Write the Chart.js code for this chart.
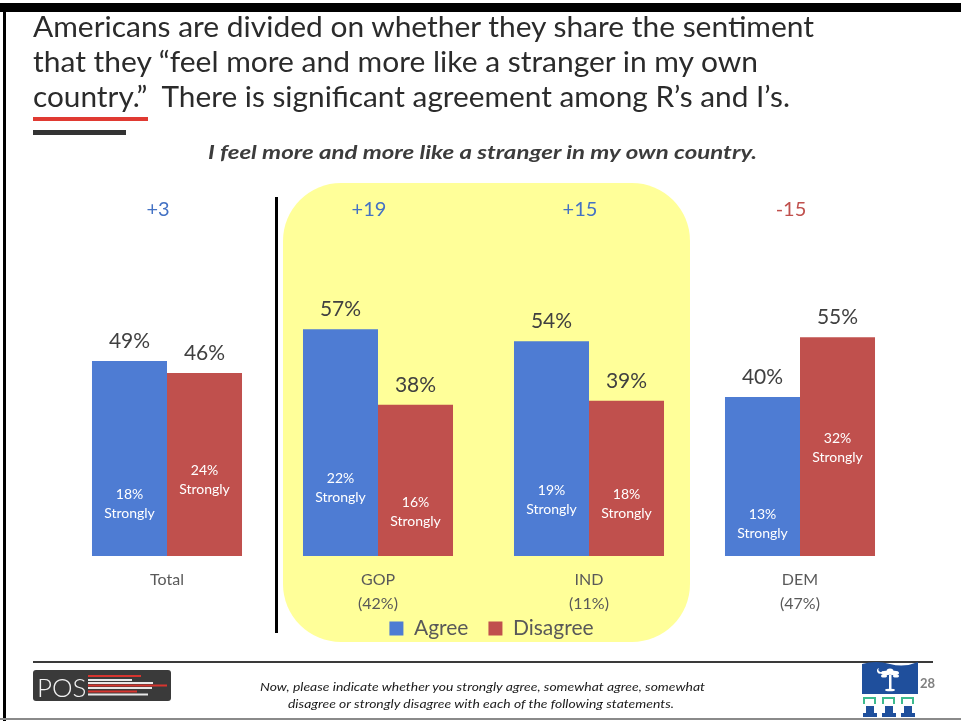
<!DOCTYPE html>
<html><head><meta charset="utf-8">
<script src="https://cdn.jsdelivr.net/npm/chart.js@4.4.1/dist/chart.umd.min.js"></script>
<style>
html,body{margin:0;padding:0;background:#fff;}
body{width:961px;height:721px;position:relative;overflow:hidden;font-family:Lato,"Open Sans",sans-serif;}
#c{position:absolute;left:0;top:0;}
.abs{position:absolute;white-space:pre;transform-origin:0 0;}
.title{font-size:29px;line-height:35px;color:#2b2b2b;font-weight:400;}
.sub{font-size:19px;line-height:19px;color:#3c3c3c;font-weight:700;font-style:italic;}
.foot{font-size:12px;line-height:14px;color:#1a1a1a;font-style:italic;}
.bar{position:absolute;}
</style></head>
<body>
<canvas id="c" width="961" height="721"></canvas>

<div class="bar" style="left:0;top:3px;width:961px;height:9px;background:#000"></div>
<div class="bar" style="left:3px;top:12px;width:3px;height:709px;background:#000"></div>
<div class="bar" style="left:33px;top:117px;width:115px;height:4px;background:#e03a32"></div>
<div class="bar" style="left:33px;top:130px;width:93px;height:5px;background:#333"></div>

<div class="abs title" data-w="781" style="left:33px;top:8px">Americans are divided on whether they share the sentiment</div>
<div class="abs title" data-w="725" style="left:33px;top:43px">that they “feel more and more like a stranger in my own</div>
<div class="abs title" data-w="757" style="left:33px;top:78px">country.”  There is significant agreement among R’s and I’s.</div>
<div class="abs sub" data-w="549" style="left:208px;top:142px">I feel more and more like a stranger in my own country.</div>

<div class="bar" style="left:33px;top:661px;width:900px;height:2px;background:#3a3a3a"></div>
<div class="bar" style="left:0;top:718px;width:961px;height:2px;background:#8a8a8a"></div>

<div class="abs foot" data-w="445" style="left:260px;top:680px">Now, please indicate whether you strongly agree, somewhat agree, somewhat</div>
<div class="abs foot" data-w="386" style="left:288px;top:697px">disagree or strongly disagree with each of the following statements.</div>

<svg style="position:absolute;left:0;top:0" width="961" height="721">
  <rect x="33" y="670" width="138" height="31" rx="3" fill="#3a3a3a"/>
  <text x="37" y="697" font-family="Lato" font-weight="300" font-size="26" fill="#f2f2f2">POS</text>
  <rect x="88" y="675" width="53" height="2" fill="#d7352f"/>
  <rect x="88" y="679" width="44" height="2" fill="#e8e8e8"/>
  <rect x="88" y="682" width="65" height="2" fill="#e8e8e8"/>
  <rect x="88" y="684.5" width="79" height="2" fill="#d7352f"/>
  <rect x="88" y="687" width="64" height="2" fill="#e8e8e8"/>
  <rect x="88" y="690.5" width="49" height="2" fill="#d7352f"/>
  <rect x="88" y="693.5" width="60" height="2" fill="#e8e8e8"/>

  <path d="M862,664 Q876,660 890,664 T918,662 L918,694 L862,694 Z" fill="#1f4f9c"/>
  <rect x="889" y="675" width="2.5" height="15" fill="#fff"/>
  <ellipse cx="886" cy="673" rx="5" ry="2.2" fill="#fff"/>
  <ellipse cx="894" cy="673" rx="5" ry="2.2" fill="#fff"/>
  <ellipse cx="890" cy="671" rx="3.5" ry="2.5" fill="#fff"/>
  <ellipse cx="884" cy="676" rx="3" ry="1.5" fill="#fff"/>
  <ellipse cx="896" cy="676" rx="3" ry="1.5" fill="#fff"/>
  <ellipse cx="890" cy="690" rx="5" ry="1.3" fill="#fff"/>
  <path d="M879,668 a3,3 0 1,0 4,3 a2.3,2.3 0 1,1 -4,-3z" fill="#fff"/>
  <g fill="none" stroke="#3dbb8e" stroke-width="2">
    <path d="M864,704 L864,698 L875,698 L875,704"/>
    <path d="M883,704 L883,698 L894,698 L894,704"/>
    <path d="M902,704 L902,698 L913,698 L913,704"/>
  </g>
  <g fill="#1f4f9c">
    <rect x="866" y="706" width="8" height="7"/><rect x="863" y="713" width="14" height="4"/>
    <rect x="885" y="706" width="8" height="7"/><rect x="882" y="713" width="14" height="4"/>
    <rect x="904" y="706" width="8" height="7"/><rect x="901" y="713" width="14" height="4"/>
  </g>
  <text x="920" y="688" font-family="Lato" font-weight="700" font-size="13" fill="#808080">28</text>
</svg>

<script>
const categories = [["Total"], ["GOP", "(42%)"], ["IND", "(11%)"], ["DEM", "(47%)"]];
const agree = [49, 57, 54, 40];
const disagree = [46, 38, 39, 55];
const agreeStrongly = [18, 22, 19, 13];
const disagreeStrongly = [24, 16, 18, 32];
const netLabels = ["+3", "+19", "+15", "-15"];
const seriesNames = ["Agree", "Disagree"];

document.querySelectorAll('[data-w]').forEach(el => {
  const w = el.getBoundingClientRect().width;
  const t = parseFloat(el.dataset.w);
  if (w > 0) el.style.transform = 'scaleX(' + (t / w) + ')';
});

const BLUE = '#4e7cd3', RED = '#c0504d';

const deco = {
  id: 'deco',
  afterLayout(chart) {
    const l = chart.legend;
    if (l) { l.top -= 20; l.bottom -= 20; l.left += 8; l.right += 8; }
  },
  beforeDraw(chart) {
    const ctx = chart.ctx;
    ctx.save();
    const x0 = 283, y0 = 183, x1 = 690, y1 = 642, r = 58;
    ctx.fillStyle = '#ffff99';
    ctx.beginPath();
    ctx.moveTo(x0 + r, y0);
    ctx.lineTo(x1 - r, y0); ctx.arcTo(x1, y0, x1, y0 + r, r);
    ctx.lineTo(x1, y1 - r); ctx.arcTo(x1, y1, x1 - r, y1, r);
    ctx.lineTo(x0 + r, y1); ctx.arcTo(x0, y1, x0, y1 - r, r);
    ctx.lineTo(x0, y0 + r); ctx.arcTo(x0, y0, x0 + r, y0, r);
    ctx.closePath(); ctx.fill();
    ctx.fillStyle = '#000';
    ctx.fillRect(275, 197, 3, 436);
    ctx.restore();
  },
  afterDatasetsDraw(chart) {
    const ctx = chart.ctx, ys = chart.scales.y, xs = chart.scales.x;
    const strong = [agreeStrongly, disagreeStrongly];
    ctx.save();
    ctx.textAlign = 'center';
    ctx.textBaseline = 'middle';
    chart.data.datasets.forEach((ds, di) => {
      chart.getDatasetMeta(di).data.forEach((bar, i) => {
        ctx.font = '21px Lato';
        ctx.fillStyle = '#404040';
        ctx.fillText(ds.data[i] + '%', bar.x, bar.y - 20);
        const py = ys.getPixelForValue(strong[di][i]);
        ctx.font = '14px Lato';
        ctx.fillStyle = '#ffffff';
        ctx.fillText(strong[di][i] + '%', bar.x, py + 10);
        ctx.fillText('Strongly', bar.x, py + 29);
      });
    });
    ctx.font = '20px Lato';
    netLabels.forEach((t, i) => {
      ctx.fillStyle = t.charAt(0) === '-' ? RED : '#4472c4';
      ctx.fillText(t, xs.getPixelForValue(i) - 9, 210);
    });
    ctx.restore();
  }
};

new Chart(document.getElementById('c'), {
  type: 'bar',
  data: {
    labels: categories,
    datasets: [
      { label: seriesNames[0], data: agree, backgroundColor: BLUE, borderWidth: 0 },
      { label: seriesNames[1], data: disagree, backgroundColor: RED, borderWidth: 0 }
    ]
  },
  options: {
    responsive: false,
    animation: false,
    events: [],
    datasets: { bar: { barPercentage: 1.0, categoryPercentage: 0.711 } },
    layout: { padding: { left: 61.5, right: 55.5, top: 198, bottom: 52 } },
    scales: {
      x: {
        grid: { display: false, drawTicks: false },
        border: { display: false },
        ticks: { color: '#595959', font: { family: 'Lato', size: 16, lineHeight: 1.5 }, padding: 12, maxRotation: 0 },
        afterFit(s) { s.height = 62; }
      },
      y: { display: false, min: 0, max: 90 }
    },
    plugins: {
      legend: {
        position: 'bottom',
        labels: { color: '#595959', font: { family: 'Lato', size: 21 }, boxWidth: 14, boxHeight: 14, padding: 20 }
      },
      tooltip: { enabled: false },
      title: { display: false }
    }
  },
  plugins: [deco]
});
</script>
</body></html>
